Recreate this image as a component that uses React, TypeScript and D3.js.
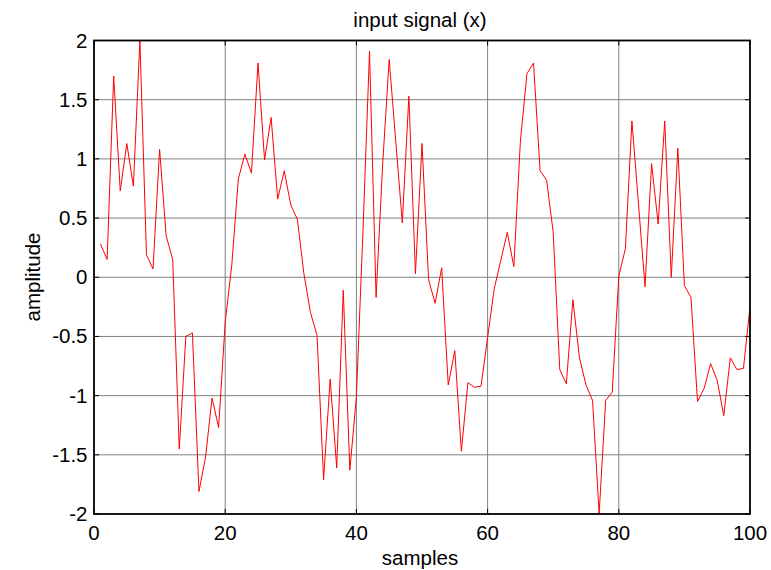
import React from "react";
import * as d3 from "d3";

const samples: number[] = d3.range(1, 101);
const amplitude: number[] = [
  0.28, 0.15, 1.70, 0.73, 1.13, 0.77, 2.0, 0.19, 0.07, 1.08,
  0.35, 0.15, -1.45, -0.50, -0.47, -1.81, -1.52, -1.02, -1.27, -0.38,
  0.1, 0.83, 1.04, 0.88, 1.81, 0.99, 1.35, 0.66, 0.90, 0.61,
  0.49, 0.03, -0.30, -0.49, -1.71, -0.86, -1.61, -0.11, -1.63, -1.01,
  0.39, 1.91, -0.17, 0.95, 1.84, 1.15, 0.46, 1.53, 0.03, 1.13,
  -0.02, -0.22, 0.08, -0.91, -0.62, -1.47, -0.89, -0.93, -0.92, -0.51,
  -0.10, 0.14, 0.38, 0.09, 1.15, 1.72, 1.81, 0.90, 0.82, 0.38,
  -0.78, -0.90, -0.19, -0.68, -0.91, -1.04, -2.0, -1.04, -0.97, 0.01,
  0.24, 1.32, 0.62, -0.08, 0.96, 0.45, 1.32, 0.0, 1.09, -0.07,
  -0.17, -1.05, -0.94, -0.73, -0.87, -1.17, -0.68, -0.78, -0.77, -0.25,
];
const xTicks: number[] = [0, 20, 40, 60, 80, 100];
const yTicks: number[] = [-2, -1.5, -1, -0.5, 0, 0.5, 1, 1.5, 2];
const title = "input signal (x)";
const xLabel = "samples";
const yLabel = "amplitude";

const W = 771;
const H = 570;
const L = 94;
const R = 750;
const T = 40.5;
const B = 514;

export default function App() {
  const x = d3.scaleLinear().domain([0, 100]).range([L, R]);
  const y = d3.scaleLinear().domain([-2, 2]).range([B, T]);
  const line = d3
    .line<number>()
    .x((_, i) => x(samples[i]))
    .y((d) => y(d));
  const font = "'Liberation Sans', Arial, sans-serif";
  const fs = 20.5;
  const fmt = (v: number) => String(v);
  return (
    <svg
      width={W}
      height={H}
      style={{ position: "absolute", left: 0, top: 0, background: "#fff" }}
      fontFamily={font}
    >
      <rect x={0} y={0} width={W} height={H} fill="#fff" />
      {xTicks.slice(1, -1).map((t) => (
        <line key={"gx" + t} x1={x(t)} x2={x(t)} y1={T} y2={B} stroke="#808080" strokeWidth={1} />
      ))}
      {yTicks.slice(1, -1).map((t) => (
        <line key={"gy" + t} x1={L} x2={R} y1={y(t)} y2={y(t)} stroke="#808080" strokeWidth={1} />
      ))}
      {xTicks.map((t) => (
        <g key={"tx" + t}>
          <line x1={x(t)} x2={x(t)} y1={B} y2={B - 5} stroke="#000" strokeWidth={1} />
          <line x1={x(t)} x2={x(t)} y1={T} y2={T + 5} stroke="#000" strokeWidth={1} />
        </g>
      ))}
      {yTicks.map((t) => (
        <g key={"ty" + t}>
          <line x1={L} x2={L + 5} y1={y(t)} y2={y(t)} stroke="#000" strokeWidth={1} />
          <line x1={R} x2={R - 5} y1={y(t)} y2={y(t)} stroke="#000" strokeWidth={1} />
        </g>
      ))}
      <path d={line(amplitude) || ""} fill="none" stroke="#ff0000" strokeWidth={1} />
      <rect x={L} y={T} width={R - L} height={B - T} fill="none" stroke="#000" strokeWidth={1.8} />
      {xTicks.map((t) => (
        <text key={"lx" + t} x={x(t)} y={539.5} textAnchor="middle" fontSize={fs} fill="#000">
          {fmt(t)}
        </text>
      ))}
      {yTicks.map((t) => (
        <text key={"ly" + t} x={87.5} y={y(t) + 7} textAnchor="end" fontSize={fs} fill="#000">
          {fmt(t)}
        </text>
      ))}
      <text x={420} y={26.5} textAnchor="middle" fontSize={fs} fill="#000">
        {title}
      </text>
      <text x={420} y={565} textAnchor="middle" fontSize={fs} fill="#000">
        {xLabel}
      </text>
      <text
        transform={`translate(40,277) rotate(-90)`}
        textAnchor="middle"
        fontSize={fs}
        fill="#000"
      >
        {yLabel}
      </text>
    </svg>
  );
}
